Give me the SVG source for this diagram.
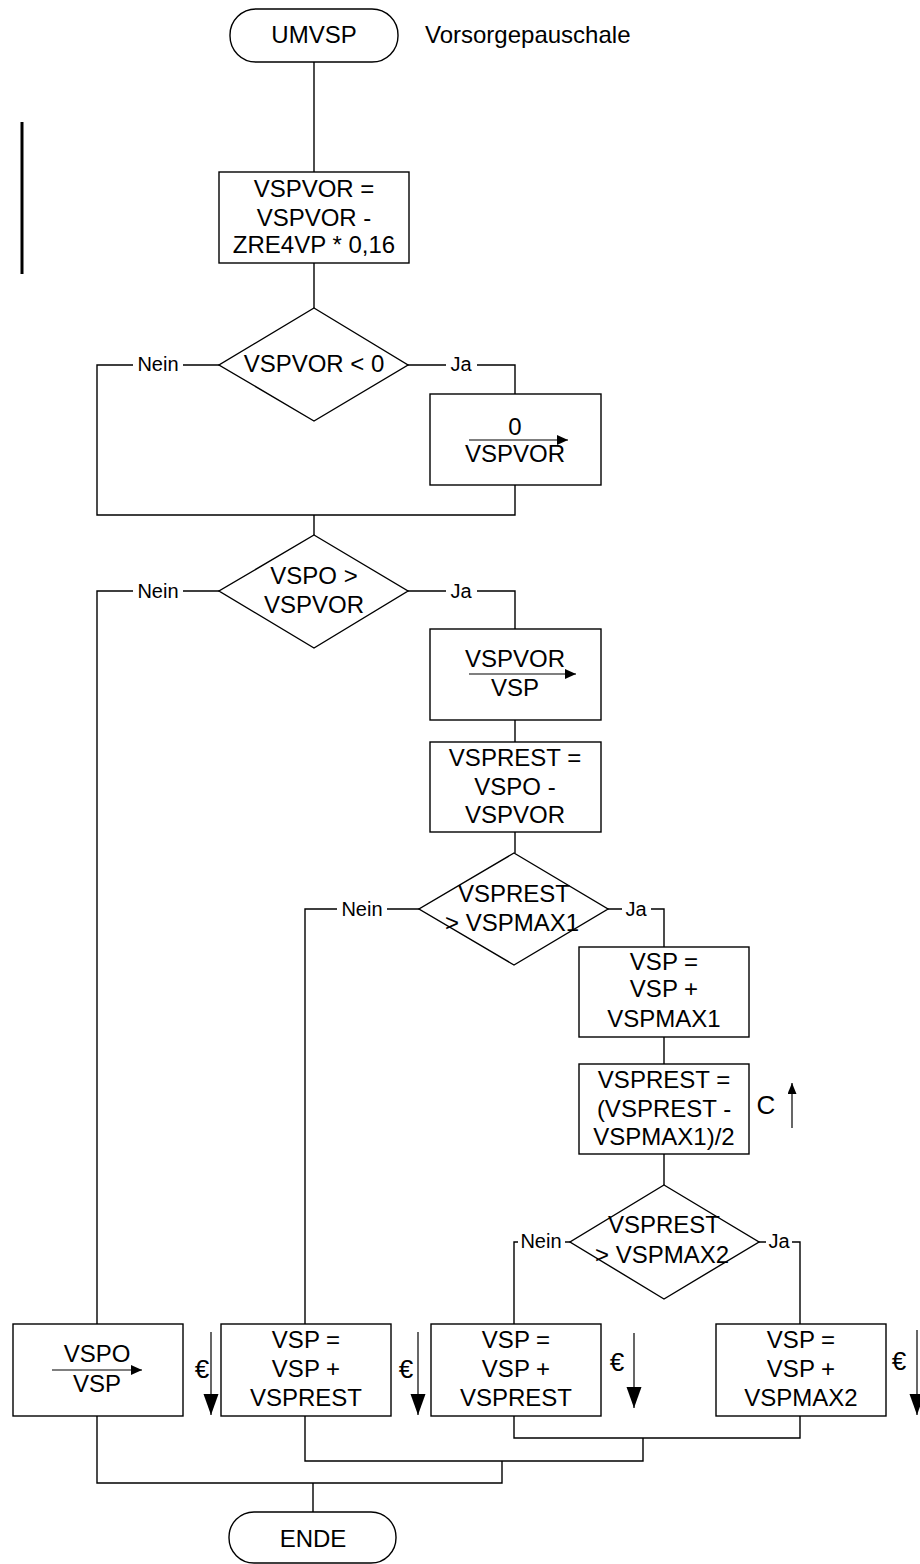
<svg xmlns="http://www.w3.org/2000/svg" width="920" height="1564" viewBox="0 0 920 1564">
<style>
.s{fill:#fff;stroke:#000;stroke-width:1.4}
.c{fill:none;stroke:#000;stroke-width:1.4}
.t{font-family:"Liberation Sans",Arial,sans-serif;font-size:24px;fill:#000;text-anchor:middle}
.l{font-family:"Liberation Sans",Arial,sans-serif;font-size:20px;fill:#000;text-anchor:middle}
.e{font-family:"Liberation Sans",Arial,sans-serif;font-size:26px;fill:#000;text-anchor:middle}
.a{fill:none;stroke:#000;stroke-width:1.2}
</style>
<defs>
<marker id="ah" markerUnits="userSpaceOnUse" markerWidth="12" markerHeight="10" refX="11" refY="5" orient="auto"><path d="M0,0 L11,5 L0,10 z" fill="#000"/></marker>
<marker id="bh" markerUnits="userSpaceOnUse" markerWidth="22" markerHeight="16" refX="21" refY="7.5" orient="auto"><path d="M0,0 L21,7.5 L0,15 z" fill="#000"/></marker>
<marker id="ch" markerUnits="userSpaceOnUse" markerWidth="12" markerHeight="10" refX="11" refY="4.5" orient="auto"><path d="M0,0 L11,4.5 L0,9 z" fill="#000"/></marker>
</defs>

<g id="connectors">
<path class="c" d="M314,62 V172"/>
<path class="c" d="M314,263 V308"/>
<path class="c" d="M219,365 H183 M133,365 H97 V515 H515 V485"/>
<path class="c" d="M408,365 H446 M477,365 H515 V394"/>
<path class="c" d="M314,515 V535"/>
<path class="c" d="M219,591 H183 M133,591 H97 V1324"/>
<path class="c" d="M408,591 H446 M477,591 H515 V629"/>
<path class="c" d="M515,720 V742"/>
<path class="c" d="M515,832 V853"/>
<path class="c" d="M419,909 H387 M337,909 H305 V1324"/>
<path class="c" d="M608,909 H622 M651,909 H664 V947"/>
<path class="c" d="M664,1037 V1064"/>
<path class="c" d="M664,1154 V1185"/>
<path class="c" d="M570,1242 H565 M518,1242 H514 V1324"/>
<path class="c" d="M759,1242 H766 M792,1242 H800 V1324"/>
<path class="c" d="M514,1416 V1438 H800 V1416 M643,1438 V1461 H305 V1416 M502,1461 V1483 H97 V1416 M313,1483 V1512"/>
</g>

<line x1="22" y1="122" x2="22" y2="274" stroke="#000" stroke-width="3"/>

<g id="start">
<rect class="s" x="230" y="9" width="168" height="53" rx="26" ry="26"/>
<text class="t" x="314" y="43">UMVSP</text>
</g>
<g id="title">
<text class="t" x="425" y="43" style="text-anchor:start">Vorsorgepauschale</text>
</g>

<g id="n1">
<rect class="s" x="219" y="172" width="190" height="91"/>
<text class="t" x="314" y="197">VSPVOR =</text>
<text class="t" x="314" y="226">VSPVOR -</text>
<text class="t" x="314" y="253">ZRE4VP * 0,16</text>
</g>

<g id="d1">
<polygon class="s" points="314,308 408,365 314,421 219,365"/>
<text class="t" x="314" y="372">VSPVOR &lt; 0</text>
<text class="l" x="158" y="371">Nein</text>
<text class="l" x="461" y="371">Ja</text>
</g>

<g id="n2">
<rect class="s" x="430" y="394" width="171" height="91"/>
<text class="t" x="515" y="435">0</text>
<line class="a" x1="469" y1="440" x2="568" y2="440" marker-end="url(#ah)"/>
<text class="t" x="515" y="462">VSPVOR</text>
</g>

<g id="d2">
<polygon class="s" points="314,535 408,591 314,648 219,591"/>
<text class="t" x="314" y="584">VSPO &gt;</text>
<text class="t" x="314" y="613">VSPVOR</text>
<text class="l" x="158" y="598">Nein</text>
<text class="l" x="461" y="598">Ja</text>
</g>

<g id="n3">
<rect class="s" x="430" y="629" width="171" height="91"/>
<text class="t" x="515" y="667">VSPVOR</text>
<line class="a" x1="469" y1="674" x2="576" y2="674" marker-end="url(#ah)"/>
<text class="t" x="515" y="696">VSP</text>
</g>

<g id="n4">
<rect class="s" x="430" y="742" width="171" height="90"/>
<text class="t" x="515" y="766">VSPREST =</text>
<text class="t" x="515" y="795">VSPO -</text>
<text class="t" x="515" y="823">VSPVOR</text>
</g>

<g id="d3">
<polygon class="s" points="514,853 608,909 514,965 419,909"/>
<text class="t" x="514" y="902">VSPREST</text>
<text class="t" x="512" y="931">&gt; VSPMAX1</text>
<text class="l" x="362" y="916">Nein</text>
<text class="l" x="636" y="916">Ja</text>
</g>

<g id="n5">
<rect class="s" x="579" y="947" width="170" height="90"/>
<text class="t" x="664" y="970">VSP =</text>
<text class="t" x="664" y="997">VSP +</text>
<text class="t" x="664" y="1027">VSPMAX1</text>
</g>

<g id="n6">
<rect class="s" x="579" y="1064" width="170" height="90"/>
<text class="t" x="664" y="1088">VSPREST =</text>
<text class="t" x="664" y="1117">(VSPREST -</text>
<text class="t" x="664" y="1145">VSPMAX1)/2</text>
<text class="e" x="766" y="1114">C</text>
<line class="a" x1="792" y1="1128" x2="792" y2="1083" marker-end="url(#ch)"/>
</g>

<g id="d4">
<polygon class="s" points="664,1185 759,1242 664,1299 570,1242"/>
<text class="t" x="664" y="1233">VSPREST</text>
<text class="t" x="662" y="1263">&gt; VSPMAX2</text>
<text class="l" x="541" y="1248">Nein</text>
<text class="l" x="779" y="1248">Ja</text>
</g>

<g id="b1">
<rect class="s" x="13" y="1324" width="170" height="92"/>
<text class="t" x="97" y="1362">VSPO</text>
<line class="a" x1="52" y1="1370" x2="142" y2="1370" marker-end="url(#ah)"/>
<text class="t" x="97" y="1392">VSP</text>
<text class="e" x="202" y="1378">€</text>
<line class="a" x1="211" y1="1332" x2="211" y2="1415" marker-end="url(#bh)"/>
</g>

<g id="b2">
<rect class="s" x="221" y="1324" width="170" height="92"/>
<text class="t" x="306" y="1348">VSP =</text>
<text class="t" x="306" y="1377">VSP +</text>
<text class="t" x="306" y="1406">VSPREST</text>
<text class="e" x="406" y="1378">€</text>
<line class="a" x1="418" y1="1332" x2="418" y2="1415" marker-end="url(#bh)"/>
</g>

<g id="b3">
<rect class="s" x="431" y="1324" width="170" height="92"/>
<text class="t" x="516" y="1348">VSP =</text>
<text class="t" x="516" y="1377">VSP +</text>
<text class="t" x="516" y="1406">VSPREST</text>
<text class="e" x="617" y="1371">€</text>
<line class="a" x1="634" y1="1333" x2="634" y2="1408" marker-end="url(#bh)"/>
</g>

<g id="b4">
<rect class="s" x="716" y="1324" width="170" height="92"/>
<text class="t" x="801" y="1348">VSP =</text>
<text class="t" x="801" y="1377">VSP +</text>
<text class="t" x="801" y="1406">VSPMAX2</text>
<text class="e" x="899" y="1370">€</text>
<line class="a" x1="917" y1="1330" x2="917" y2="1415" marker-end="url(#bh)"/>
</g>

<g id="end">
<rect class="s" x="229" y="1512" width="167" height="51" rx="25" ry="25"/>
<text class="t" x="313" y="1547">ENDE</text>
</g>
</svg>
